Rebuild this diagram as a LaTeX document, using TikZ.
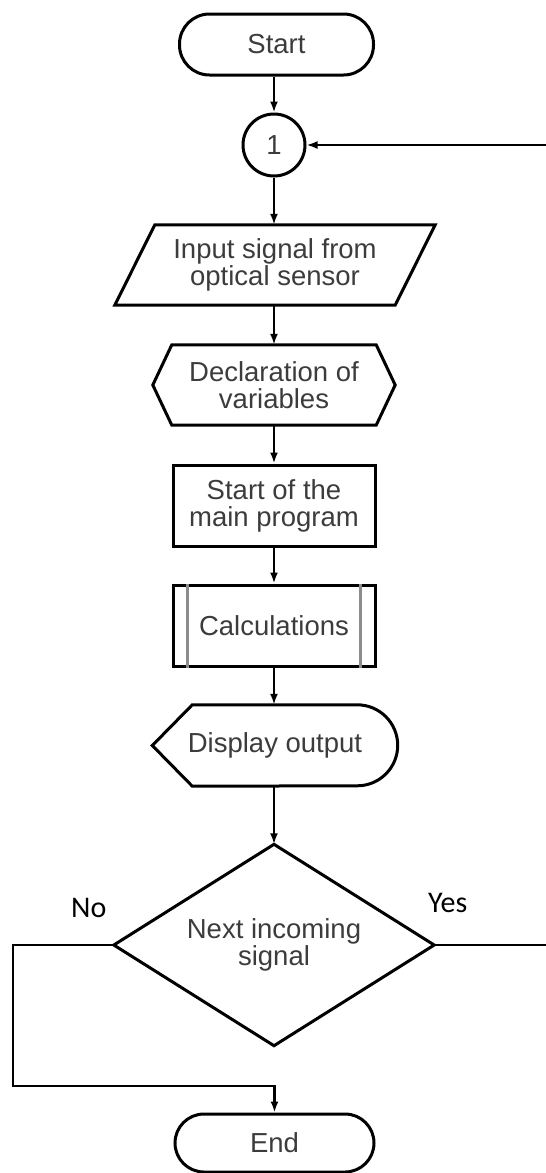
\documentclass[tikz,border=0pt]{standalone}
\usepackage{fontspec}
\setmainfont{Liberation Sans}
\newfontfamily\lblfont{Carlito}
\usetikzlibrary{arrows.meta}
\definecolor{txtgray}{HTML}{3C3C3C}
\definecolor{innergray}{HTML}{8C8C8C}
\begin{document}
\begin{tikzpicture}[x=1pt,y=-1pt,
  txt/.style={font=\fontsize{27.5}{27}\selectfont, text=txtgray, align=center, inner sep=0pt},
  outline/.style={draw=black, line width=3pt, line join=miter},
  term/.style={txt, outline, rounded corners=29pt},
  procbox/.style={txt, outline, minimum width=202pt, minimum height=81pt},
  ghost/.style={txt, draw=none},
  conn/.style={draw=black, line width=2.3pt, -{Latex[length=11pt,width=8pt]}},
  plain/.style={draw=black, line width=2.3pt},
  lbl/.style={font=\lblfont\fontsize{30}{30}\selectfont, text=black, inner sep=0pt, anchor=base west}
]
\useasboundingbox (0,0) rectangle (546,1173);

% nodes
\node[term, minimum width=194pt, minimum height=61pt, rounded corners=30pt] (start) at (276.5,44.5) {Start};
\node[txt, outline, circle, minimum size=62pt] (c1) at (274,145) {1};

\node[ghost, minimum width=320pt, minimum height=80pt] (input) at (275,265) {Input signal from\\optical sensor};
\draw[outline] ([xshift=40pt]input.north west) -- (input.north east) -- ([xshift=-40pt]input.south east) -- (input.south west) -- cycle;

\node[ghost, minimum width=242pt, minimum height=80pt] (decl) at (274,385) {Declaration of\\variables};
\draw[outline] (decl.west) -- ([xshift=19pt]decl.north west) -- ([xshift=-19pt]decl.north east) -- (decl.east) -- ([xshift=-19pt]decl.south east) -- ([xshift=19pt]decl.south west) -- cycle;

\node[procbox] (main) at (274,505.5) {Start of the\\main program};

\node[procbox] (calc) at (274,625.5) {Calculations};
\draw[draw=innergray, line width=2.3pt] ([xshift=16pt]calc.north west) -- ([xshift=16pt]calc.south west);
\draw[draw=innergray, line width=2.3pt] ([xshift=-16pt]calc.north east) -- ([xshift=-16pt]calc.south east);

\node[ghost, minimum width=245pt, minimum height=81pt] (disp) at (275,745.5) {Display output};
\draw[outline] (disp.west) -- ([xshift=40pt]disp.north west) -- ([xshift=-40.5pt]disp.north east)
  arc[start angle=90, end angle=-90, radius=40.5pt] -- ([xshift=40pt]disp.south west) -- cycle;

\node[ghost, minimum width=320pt, minimum height=201pt] (dec) at (274,945) {Next incoming\\signal};
\draw[outline] (dec.north) -- (dec.east) -- (dec.south) -- (dec.west) -- cycle;

\node[term, minimum width=199pt, minimum height=58pt] (end) at (274.5,1143) {End};

% labels
\node[lbl] (nolbl) at (71,917) {No};
\node[lbl] (yeslbl) at (428,912) {Yes};

% coordinates
\coordinate (rin) at (546,145);
\coordinate (rout) at (546,945);
\coordinate (nl) at (13,1086);

% connectors
\draw[conn] (start.south -| c1.north) -- (c1.north);
\draw[conn] (rin) -- (c1.east);
\draw[conn] (c1.south) -- (input.north -| c1.south);
\draw[conn] (input.south -| decl.north) -- (decl.north);
\draw[conn] (decl.south) -- (main.north);
\draw[conn] (main.south) -- (calc.north);
\draw[conn] (calc.south) -- (disp.north -| calc.south);
\draw[conn] (disp.south -| dec.north) -- (dec.north);
\draw[plain] (dec.east) -- (rout);
\draw[conn] (dec.west) -| (nl) -| (end.north);
\end{tikzpicture}
\end{document}
